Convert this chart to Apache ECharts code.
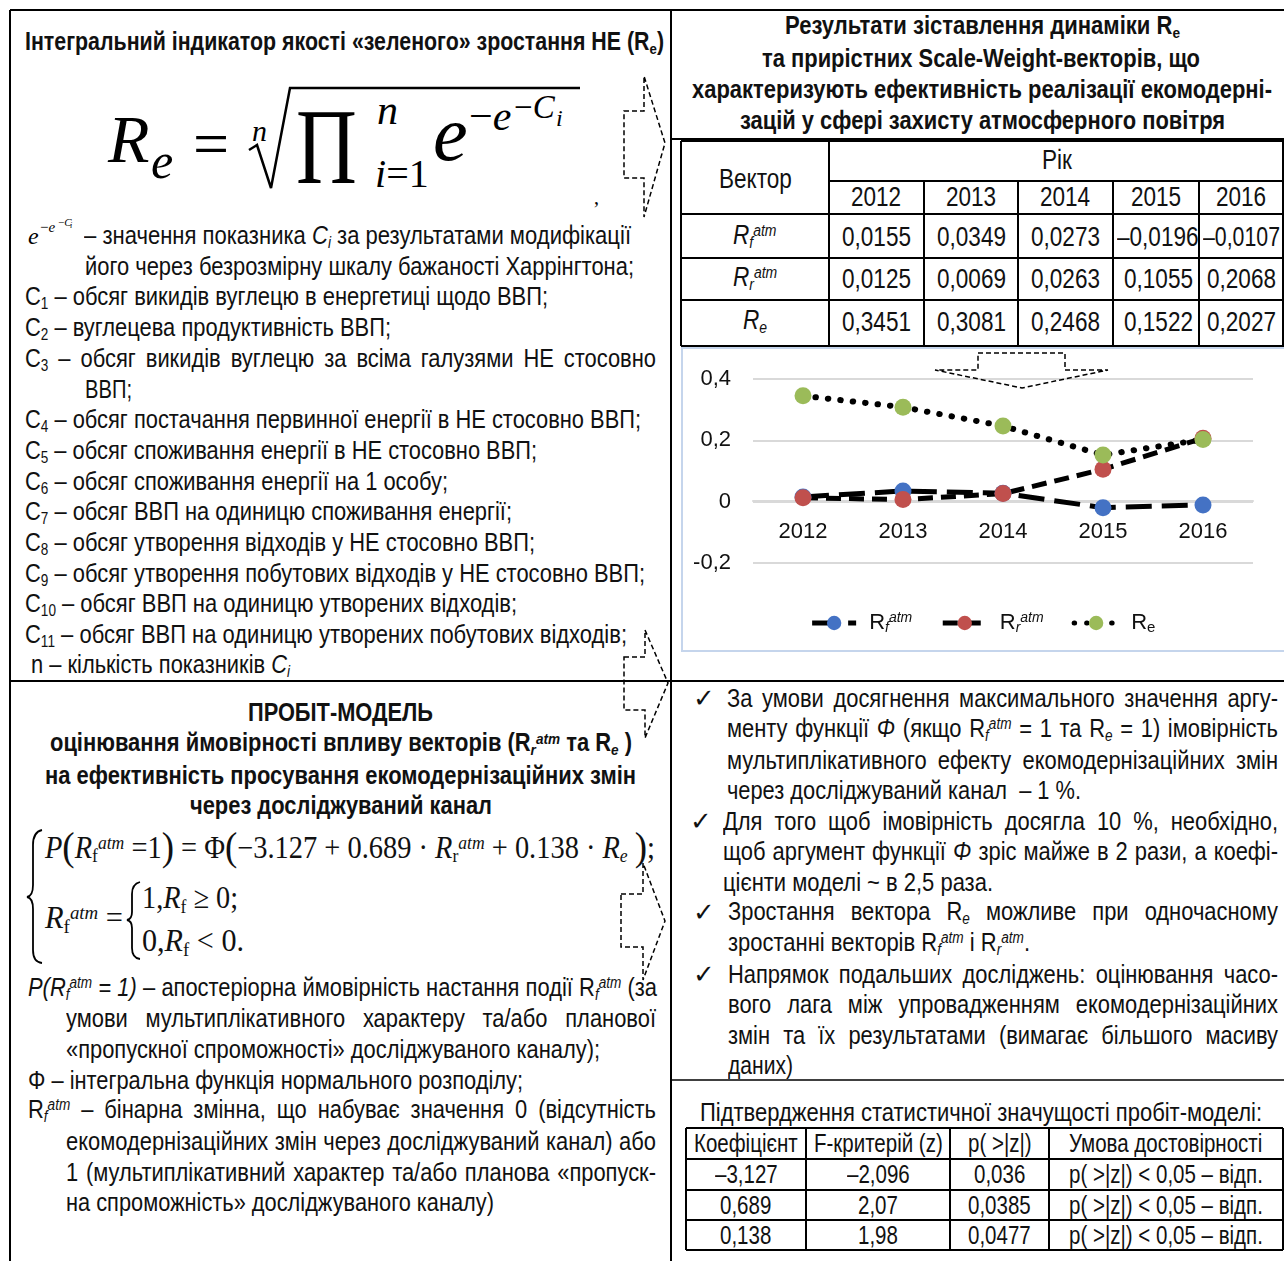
<!DOCTYPE html>
<html><head><meta charset="utf-8">
<script src="https://cdn.jsdelivr.net/npm/echarts@6/dist/echarts.min.js"></script>
<style>
html,body{margin:0;padding:0;background:#fff;}
#page{position:relative;width:1284px;height:1261px;overflow:hidden;font-family:"Liberation Sans Narrow","Arial Narrow","Liberation Sans",sans-serif;color:#111;}
.ln{position:absolute;white-space:nowrap;line-height:30px;font-size:26px;transform-origin:0 50%;}
.b{font-weight:bold;font-size:25px;}
.tb{font-size:27.5px;}
.ts{font-size:25px;}
.ser{font-family:"Liberation Serif","Times New Roman",serif;}
.f30{font-size:31px;line-height:40px;}
.sb{font-size:0.62em;font-style:italic;position:relative;top:0.25em;}
.sb0{font-size:0.62em;position:relative;top:0.25em;}
.sp{font-size:0.62em;font-style:italic;position:relative;top:-0.45em;}
.bp{font-size:1.3em;position:relative;top:0.05em;}
.m{position:absolute;white-space:nowrap;line-height:1;font-family:"Liberation Serif","Times New Roman",serif;color:#000;}
#ov{position:absolute;left:0;top:0;z-index:5;}
#chart{position:absolute;left:681px;top:347px;width:603px;height:305px;z-index:1;}
#cbox{position:absolute;left:681px;top:347px;width:603px;height:305px;box-sizing:border-box;border:2px solid #C5D5EC;border-right:none;z-index:2;pointer-events:none;}
</style></head>
<body>
<div id="page">
<div id="chart"></div>
<div id="cbox"></div>
<svg id="ov" width="1284" height="1261" xmlns="http://www.w3.org/2000/svg">
 <g stroke="#000" stroke-width="2" fill="none">
  <path d="M10 10 H1284 M10 10 V1261 M671 10 V1261 M10 681 H1284 M671 139 H1284"/>
  <path d="M671 1080 H1284" stroke-width="1.5"/>
  <path d="M681 141 H1284 M829 181 H1284 M681 214 H1284 M681 258 H1284 M681 300 H1284 M681 346 H1284"/>
  <path d="M681 141 V346 M829 141 V346 M924 181 V346 M1018 181 V346 M1113 181 V346 M1199 181 V346 M1283 141 V346"/>
  <path d="M686 1128 H1283 M686 1159 H1283 M686 1190 H1283 M686 1220 H1283 M686 1250 H1283"/>
  <path d="M686 1128 V1250 M806 1128 V1250 M950 1128 V1250 M1049 1128 V1250 M1283 1128 V1250"/>
 </g>
 <g stroke="#000" stroke-width="1.5" fill="none" stroke-dasharray="5 3">
  <polygon points="624,111 644,111 644,76 665,143 644,217 644,178 624,178"/>
  <polygon points="624,657 645,657 645,630 668,683 645,738 645,710 624,710"/>
  <polygon points="621,894 643,894 643,863 665,921 643,980 643,947 621,947"/>
  <polygon points="978,353 1065,353 1065,370 1108,370 1022,388 935,370 978,370"/>
 </g>
 <g stroke="#000" fill="none">
  <path d="M249 150 L257 145 L271 188 L290 88 L580 88" stroke-width="2.5"/>
  <path d="M42 830 Q33 832 33 845 L33 885 Q33 896 27 897 Q33 898 33 909 L33 950 Q33 962 42 963" stroke-width="1.8"/>
  <path d="M140 882 Q132 884 132 894 L132 912 Q132 919 127 920 Q132 921 132 928 L132 948 Q132 958 140 959" stroke-width="1.8"/>
 </g>
</svg>
</div>
<script>
// ---------- data ----------
const years = ['2012', '2013', '2014', '2015', '2016'];
const rfAtm = [0.0155, 0.0349, 0.0273, -0.0196, -0.0107];
const rrAtm = [0.0125, 0.0069, 0.0263, 0.1055, 0.2068];
const reVal = [0.3451, 0.3081, 0.2468, 0.1522, 0.2027];
const yTickMin = -0.2, yTickMax = 0.4, yTickStep = 0.2;
const statHeaders = ['Коефіцієнт', 'F-критерій (z)', 'p( >|z|)', 'Умова достовірності'];
const coefs = [-3.127, 0.689, 0.138];
const zVals = [-2.096, 2.07, 1.98];
const pVals = [0.036, 0.0385, 0.0477];
const condText = 'p( >|z|) < 0,05 – відп.';

const FONT = '"Liberation Sans Narrow","Arial Narrow","Liberation Sans",sans-serif';
const page = document.getElementById('page');
const fmt = v => (v < 0 ? '–' : '') + String(Math.abs(v)).replace('.', ',');
const esc = s => s.replace(/&/g, '&amp;').replace(/</g, '&lt;').replace(/>/g, '&gt;');

// condense factor: emulate a narrow face when none is installed
const cv = document.createElement('canvas').getContext('2d');
cv.font = '40px ' + FONT; const wStack = cv.measureText('Вектор 0,0155 обсяг').width;
cv.font = '40px "Liberation Sans"'; const wReg = cv.measureText('Вектор 0,0155 обсяг').width;
const K = Math.min(1, 0.82 / (wStack / wReg));

const pendingJ = [];
const bodyScales = [];
function L(x0, x1, yc, html, mode, cls) {
  const d = document.createElement('div');
  d.className = 'ln ' + (cls || '');
  d.innerHTML = html;
  d.style.left = x0 + 'px';
  page.appendChild(d);
  const h = d.getBoundingClientRect().height;
  d.style.top = (yc - h / 2) + 'px';
  const w = d.getBoundingClientRect().width;
  const target = x1 - x0;
  if (mode === 'j') {
    pendingJ.push([d, w, target]);
  } else if (mode === 's') {
    d.style.transform = 'scaleX(' + (target / w) + ')';
    if (!cls && target > 150) bodyScales.push(target / w);
  } else if (mode === 'c') {
    const room = target - 8;
    const s = Math.min(K, room / w);
    d.style.transform = 'scaleX(' + s + ')';
    d.style.left = ((x0 + x1) / 2 - w * s / 2) + 'px';
  }
  return d;
}
function finishJustify() {
  const kb = bodyScales.length ? bodyScales.reduce((a, b) => a + b, 0) / bodyScales.length : K;
  pendingJ.forEach(([d, w, target]) => {
    const n = (d.textContent.match(/ /g) || []).length;
    if (w * kb < target && n) {
      d.style.wordSpacing = ((target / kb - w) / n) + 'px';
      d.style.transform = 'scaleX(' + kb + ')';
    } else d.style.transform = 'scaleX(' + (target / w) + ')';
  });
}
function M(x, base, html, size, extra) {
  const d = document.createElement('div');
  d.className = 'm';
  d.innerHTML = html;
  d.style.left = x + 'px';
  d.style.fontSize = size + 'px';
  d.style.top = (base - 0.8375 * size) + 'px';
  if (extra) Object.assign(d.style, extra);
  page.appendChild(d);
  return d;
}
const RF = 'R<span class="sb">f</span><span class="sp">atm</span>';
const RR = 'R<span class="sb">r</span><span class="sp">atm</span>';
const RE = 'R<span class="sb">e</span>';
const C = n => 'C<span class="sb0">' + n + '</span>';

// ---------- left top ----------
L(25, 664, 43, 'Інтегральний індикатор якості «зеленого» зростання НЕ (R<span class="sb0">e</span>)', 's', 'b');
M(108, 162, '<i>R</i>', 68);
M(151, 178, '<i>e</i>', 50);
M(193, 166, '=', 64);
M(252, 141, '<i>n</i>', 30);
M(296, 183, 'Π', 108, {transform: 'scaleX(0.78)', transformOrigin: '0 0'});
M(377, 124, '<i>n</i>', 42);
M(375, 187, '<i>i</i>=1', 40);
M(433, 160, '<i>e</i>', 78);
M(469, 130, '−<i>e</i>', 42);
M(514, 119, '−<i>C</i>', 33);
M(556, 126, '<i>i</i>', 24);
M(594, 204, ',', 20);

// small e^{-e^{-Ci}}
M(28, 244, '<i>e</i>', 24);
M(40, 233, '−<i>e</i>', 15);
M(58, 226, '−<i>C</i>', 11);
M(70, 229, '<i>i</i>', 8);
L(84, 631, 236, '– значення показника <i>C<span class="sb0">i</span></i> за результатами модифікації', 's');
L(85, 634, 266, 'його через безрозмірну шкалу бажаності Харрінгтона;', 's');
L(25, 548, 297, C(1) + ' – обсяг викидів вуглецю в енергетиці щодо ВВП;', 's');
L(25, 391, 328, C(2) + ' – вуглецева продуктивність ВВП;', 's');
L(25, 656, 359, C(3) + ' – обсяг викидів вуглецю за всіма галузями НЕ стосовно', 'j');
L(85, 132, 389, 'ВВП;', 's');
L(25, 641, 420, C(4) + ' – обсяг постачання первинної енергії в НЕ стосовно ВВП;', 's');
L(25, 537, 451, C(5) + ' – обсяг споживання енергії в НЕ стосовно ВВП;', 's');
L(25, 448, 482, C(6) + ' – обсяг споживання енергії на 1 особу;', 's');
L(25, 512, 512, C(7) + ' – обсяг ВВП на одиницю споживання енергії;', 's');
L(25, 535, 543, C(8) + ' – обсяг утворення відходів у НЕ стосовно ВВП;', 's');
L(25, 645, 574, C(9) + ' – обсяг утворення побутових відходів у НЕ стосовно ВВП;', 's');
L(25, 517, 604, C(10) + ' – обсяг ВВП на одиницю утворених відходів;', 's');
L(25, 627, 635, C(11) + ' – обсяг ВВП на одиницю утворених побутових відходів;', 's');
L(31, 290, 665, 'n – кількість показників <i>C<span class="sb0">i</span></i>', 's');

// ---------- left bottom ----------
L(248, 433, 712, 'ПРОБІТ-МОДЕЛЬ', 's', 'b');
L(50, 632, 744, 'оцінювання ймовірності впливу векторів (' + RR + ' та ' + RE + ' )', 's', 'b');
L(45, 636, 775, 'на ефективність просування екомодернізаційних змін', 's', 'b');
L(190, 492, 805, 'через досліджуваний канал', 's', 'b');

L(45, 655, 848, '<i>P</i><span class="bp">(</span><i>R</i><span class="sb0">f</span><span class="sp">atm</span> =1<span class="bp">)</span> = Φ<span class="bp">(</span>−3.127 + 0.689 · <i>R</i><span class="sb0">r</span><span class="sp">atm</span> + 0.138 · <i>R</i><span class="sb">e</span> <span class="bp">)</span>;', 's', 'ser f30');
L(45, 123, 920, '<i>R</i><span class="sb0">f</span><span class="sp">atm</span> =', 's', 'ser f30');
L(142, 238, 900, '1,<i>R</i><span class="sb0">f</span> ≥ 0;', 's', 'ser f30');
L(142, 244, 943, '0,<i>R</i><span class="sb0">f</span> &lt; 0.', 's', 'ser f30');

L(28, 657, 988, '<i>P(R<span class="sb0">f</span><span class="sp">atm</span> = 1)</i> – апостеріорна ймовірність настання події ' + RF + ' (за', 'j');
L(66, 656, 1018, 'умови мультиплікативного характеру та/або планової', 'j');
L(66, 600, 1049, '«пропускної спроможності» досліджуваного каналу);', 's');
L(28, 523, 1080, 'Φ – інтегральна функція нормального розподілу;', 's');
L(28, 656, 1110, RF + ' – бінарна змінна, що набуває значення 0 (відсутність', 'j');
L(66, 656, 1141, 'екомодернізаційних змін через досліджуваний канал) або', 'j');
L(66, 656, 1172, '1 (мультиплікативний характер та/або планова «пропуск-', 'j');
L(66, 494, 1202, 'на спроможність» досліджуваного каналу)', 's');

// ---------- right top title ----------
L(785, 1180, 27, 'Результати зіставлення динаміки R<span class="sb0">e</span>', 's', 'b');
L(762, 1200, 58, 'та прирістних Scale-Weight-векторів, що', 's', 'b');
L(692, 1272, 89, 'характеризують ефективність реалізації екомодерні-', 's', 'b');
L(740, 1225, 120, 'зацій у сфері захисту атмосферного повітря', 's', 'b');

// ---------- top table ----------
const colX = [829, 924, 1018, 1113, 1199, 1284];
L(681, 829, 179, 'Вектор', 'c', 'tb');
L(829, 1284, 160, 'Рік', 'c', 'tb');
years.forEach((y, i) => L(colX[i], colX[i + 1], 197, y, 'c', 'tb'));
const rowsT = [['<i>' + RF + '</i>', rfAtm, 237], ['<i>' + RR + '</i>', rrAtm, 279], ['<i>R<span class="sb">e</span></i>', reVal, 322]];
rowsT.forEach(r => {
  L(681, 829, r[2], r[0], 'c', 'tb');
  r[1].forEach((v, i) => L(colX[i], colX[i + 1] + (i === 3 ? 4 : 0), r[2], fmt(v), 'c', 'tb'));
});

// ---------- right bottom checklist ----------
[698, 821, 912, 974].forEach((y, i) => L([693, 690, 693, 693][i], 0, y, '✓', 'n'));
L(727, 1278, 698, 'За умови досягнення максимального значення аргу-', 'j');
L(727, 1278, 729, 'менту функції <i>Φ</i> (якщо ' + RF + ' = 1 та ' + RE + ' = 1) імовірність', 'j');
L(727, 1278, 760, 'мультиплікативного ефекту екомодернізаційних змін', 'j');
L(727, 1081, 790, 'через досліджуваний канал &nbsp;– 1 %.', 's');
L(723, 1278, 821, 'Для того щоб імовірність досягла 10 %, необхідно,', 'j');
L(723, 1278, 851, 'щоб аргумент функції <i>Φ</i> зріс майже в 2 рази, а коефі-', 'j');
L(723, 993, 882, 'цієнти моделі ~ в 2,5 раза.', 's');
L(728, 1278, 912, 'Зростання вектора ' + RE + ' можливе при одночасному', 'j');
L(728, 1030, 943, 'зростанні векторів ' + RF + ' і ' + RR + '.', 's');
L(728, 1278, 974, 'Напрямок подальших досліджень: оцінювання часо-', 'j');
L(728, 1278, 1004, 'вого лага між упровадженням екомодернізаційних', 'j');
L(728, 1278, 1035, 'змін та їх результатами (вимагає більшого масиву', 'j');
L(728, 793, 1065, 'даних)', 's');

// ---------- stats table ----------
L(700, 1262, 1112, 'Підтвердження статистичної значущості пробіт-моделі:', 's');
const sCols = [686, 806, 950, 1049, 1283];
const sRowY = [1143, 1174, 1205, 1235];
statHeaders.forEach((h, i) => L(sCols[i], sCols[i + 1], sRowY[0], esc(h), 'c', 'ts'));
coefs.forEach((c, r) => {
  const y = sRowY[r + 1];
  L(sCols[0], sCols[1], y, fmt(c), 'c', 'ts');
  L(sCols[1], sCols[2], y, fmt(zVals[r]), 'c', 'ts');
  L(sCols[2], sCols[3], y, fmt(pVals[r]), 'c', 'ts');
  L(sCols[3], sCols[4], y, esc(condText), 'c', 'ts');
});
finishJustify();

// ---------- chart ----------
const chart = echarts.init(document.getElementById('chart'), null, {renderer: 'canvas'});
const names = ['Rf', 'Rr', 'Re'];
const legendRich = {
  Rf: '{b|R}{s|f}{a|atm}',
  Rr: '{b|R}{s|r}{a|atm}',
  Re: '{b|R}{e|e}'
};
chart.setOption({
  animation: false,
  grid: {left: 72, right: 31, top: 32, bottom: 89},
  xAxis: {
    type: 'category', data: years, boundaryGap: true, offset: -62,
    axisLine: {show: true, onZero: false, lineStyle: {color: '#D9D9D9', width: 2}},
    axisTick: {show: false},
    axisLabel: {margin: 20, fontSize: 22, color: '#111', fontFamily: FONT}
  },
  yAxis: {
    type: 'value', min: yTickMin, max: yTickMax, interval: yTickStep,
    axisLine: {show: false}, axisTick: {show: false},
    splitLine: {lineStyle: {color: '#D9D9D9', width: 2}},
    axisLabel: {margin: 22, fontSize: 22, color: '#111', fontFamily: FONT,
      formatter: v => Math.abs(v) < 1e-9 ? '0' : v.toFixed(1).replace('.', ',')}
  },
  legend: {
    data: names, top: 259, left: 'center', itemWidth: 44, itemHeight: 18, itemGap: 28,
    lineStyle: {width: 5},
    formatter: n => legendRich[n],
    textStyle: {
      color: '#111', fontFamily: FONT, fontSize: 22, lineHeight: 24, padding: [0, 0, 0, 8],
      rich: {
        b: {fontSize: 22, fontFamily: FONT, color: '#111', lineHeight: 24, verticalAlign: 'middle'},
        s: {fontSize: 14, fontStyle: 'italic', fontFamily: FONT, color: '#111', lineHeight: 24, verticalAlign: 'bottom'},
        a: {fontSize: 14, fontStyle: 'italic', fontFamily: FONT, color: '#111', lineHeight: 24, verticalAlign: 'top'},
        e: {fontSize: 15, fontFamily: FONT, color: '#111', lineHeight: 24, verticalAlign: 'bottom'}
      }
    }
  },
  series: [
    {name: 'Rf', type: 'line', data: rfAtm, symbol: 'circle', symbolSize: 17,
      itemStyle: {color: '#4472C4'}, lineStyle: {color: '#000', width: 5, type: [26, 10]}},
    {name: 'Rr', type: 'line', data: rrAtm, symbol: 'circle', symbolSize: 17,
      itemStyle: {color: '#C0504D'}, lineStyle: {color: '#000', width: 5, type: [15, 8]}},
    {name: 'Re', type: 'line', data: reVal, symbol: 'circle', symbolSize: 17,
      itemStyle: {color: '#9BBB59'}, lineStyle: {color: '#000', width: 6, type: [0.5, 12], cap: 'round'}}
  ]
});
</script>
</body></html>
